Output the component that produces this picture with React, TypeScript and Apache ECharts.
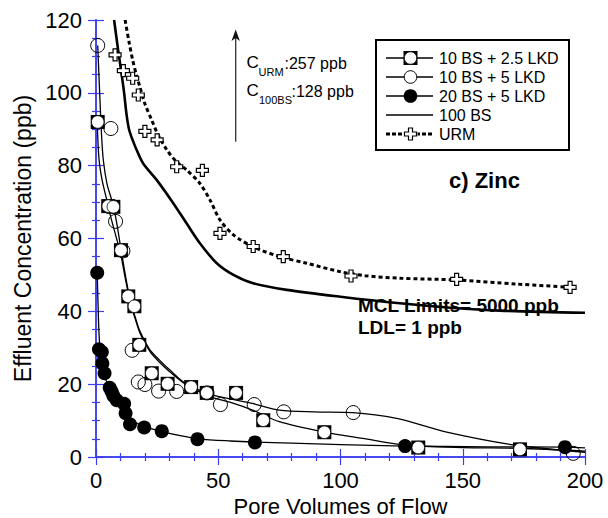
import React, { useEffect, useRef } from "react";
import * as echarts from "echarts";

// ---- data ----
const sqX = [0.7, 5.0, 7.1, 10.2, 13.2, 15.7, 17.7, 22.8, 29.3, 38.9, 45.3, 57.3, 68.4, 93.4, 131.8, 173.4];
const sqY = [92.0, 68.9, 68.7, 56.8, 44.1, 41.4, 30.8, 23.0, 20.1, 19.2, 17.6, 17.6, 10.1, 6.8, 2.6, 2.1];

const ocX = [0.7, 6.1, 8.0, 11.0, 14.8, 17.3, 20.0, 25.6, 33.0, 45.4, 50.9, 64.7, 76.8, 105.2, 195.2];
const ocY = [113.0, 90.2, 64.7, 56.6, 29.3, 20.6, 19.9, 18.1, 18.0, 17.6, 14.4, 14.4, 12.4, 12.2, 1.0];

const fcX = [0.5, 1.2, 2.4, 2.6, 3.5, 5.6, 6.4, 7.1, 8.5, 11.5, 12.1, 13.9, 19.7, 26.9, 41.5, 65.0, 126.4, 191.8];
const fcY = [50.6, 29.6, 28.8, 25.7, 23.0, 19.0, 18.0, 16.8, 15.6, 14.6, 12.0, 9.0, 8.1, 7.1, 4.9, 4.0, 3.0, 2.7];

const urmX = [7.8, 11.2, 15.0, 17.3, 20.0, 25.0, 33.0, 43.5, 50.7, 64.3, 76.6, 104.3, 147.5, 193.9];
const urmY = [110.4, 106.1, 104.0, 99.4, 89.4, 87.1, 79.7, 78.7, 61.4, 57.8, 55.0, 49.7, 48.8, 46.6];

// fitted curves
const sqFitX = [0.5, 1.2, 2.5, 4.4, 6, 8, 10, 12, 14, 16, 18, 22, 26, 30, 37, 48, 56, 64, 75, 93, 109, 126, 150, 173, 200];
const sqFitY = [92, 82, 76, 70.6, 66, 61, 56, 49, 42.5, 38, 34, 29, 26, 23.5, 19.8, 16.3, 14.8, 12.9, 9.7, 6.9, 5.1, 3.3, 2.6, 2.4, 1.6];

const ocFitX = [0.7, 1.5, 2.3, 3, 4.5, 6.4, 8, 10, 12, 14, 16, 18, 22, 26, 30, 37, 48, 56, 64, 75, 89, 105, 123, 143, 171, 200];
const ocFitY = [113, 100, 88, 81.5, 75, 70.6, 66, 58, 50, 43, 38.5, 34.5, 29.5, 26.6, 24, 20, 17, 15.8, 14.7, 12.9, 12.4, 12.2, 10.6, 6.9, 3.3, 1.3];

const fcFitX = [0.5, 1, 1.6, 3, 5, 7, 10, 13, 16, 20, 27, 35, 42, 55, 65, 80, 100, 126, 160, 192, 200];
const fcFitY = [50.6, 38, 30, 23.5, 19.5, 16.8, 13.8, 11, 9.5, 8.3, 7, 5.8, 5, 4.4, 4.1, 3.8, 3.4, 3.0, 2.8, 2.7, 2.5];

const bsX = [7.4, 9, 10.5, 11.5, 12.5, 13.5, 15, 16.5, 19.3, 24.8, 31.6, 37.1, 42.5, 49.4, 56.2, 64.3, 78, 100, 124.3, 145, 165.2, 200];
const bsY = [120, 112, 105, 100, 94, 90, 87, 84.5, 80.6, 76.1, 69.7, 64.1, 58.7, 53.2, 50, 47.7, 45.9, 44, 42.2, 41, 40.2, 39.6];

const urmFitX = [11.9, 13.5, 15, 16.5, 18, 20, 22.8, 25, 29, 33, 37.1, 42.5, 46.6, 50.7, 56.2, 64.3, 75.3, 86.2, 99.8, 110, 124, 147.5, 172, 194];
const urmFitY = [120, 114, 109, 105, 101.5, 97, 92.5, 89, 84.3, 81, 78.8, 75.1, 70.6, 65.1, 61, 57.7, 55, 53.2, 50.9, 49.8, 49.1, 48.6, 47.5, 46.6];

const xTicks = { min: 0, max: 200, interval: 50 };
const yTicks = { min: 0, max: 120, interval: 20 };

const legendNames = ["10 BS + 2.5 LKD", "10 BS + 5 LKD", "20 BS + 5 LKD", "100 BS", "URM"];

const FONT = "'Liberation Sans', Arial, sans-serif";
const AXIS_COLOR = "#3c3cf0";
const CROSS = "path://M4,0L8,0L8,4L12,4L12,8L8,8L8,12L4,12L4,8L0,8L0,4L4,4Z";

const zip = (xs: number[], ys: number[]) => xs.map((x, i) => [x, ys[i]]);

export default function App() {
  const ref = useRef<HTMLDivElement>(null);
  useEffect(() => {
    document.body.style.margin = "0";
    if (!ref.current) return;
    const chart = echarts.init(ref.current, undefined, { renderer: "svg" });

    const baseAxis = {
      axisLine: { show: true, lineStyle: { color: AXIS_COLOR, width: 1.5 } },
      axisTick: { show: true, inside: true, length: 8, lineStyle: { color: AXIS_COLOR, width: 1.2 } },
      minorTick: { show: true, length: 4, lineStyle: { color: AXIS_COLOR, width: 1.2 } },
      splitLine: { show: false },
    };

    const lx1 = 386, lx2 = 433, lmx = 410.5;
    const rowY = [58, 77, 96, 115, 134];
    const legendGraphics: any[] = [
      { type: "rect", shape: { x: 376, y: 40, width: 193, height: 110 }, style: { fill: "#fff", stroke: "#000", lineWidth: 2 }, z: 10 },
    ];
    rowY.forEach((y, i) => {
      legendGraphics.push({
        type: "line",
        shape: { x1: lx1, y1: y, x2: lx2, y2: y },
        style: i === 4
          ? { stroke: "#000", lineWidth: 3, lineDash: [4, 2] }
          : { stroke: "#000", lineWidth: 1.5 },
        z: 11,
      });
      legendGraphics.push({
        type: "text", x: 439, y: y,
        style: { text: legendNames[i], fontSize: 16, fontFamily: FONT, fill: "#000", verticalAlign: "middle", align: "left" },
        z: 11,
      });
    });
    legendGraphics.push(
      { type: "rect", shape: { x: lmx - 7, y: rowY[0] - 7, width: 14, height: 14 }, style: { fill: "#000" }, z: 12 },
      { type: "circle", shape: { cx: lmx, cy: rowY[0], r: 6.3 }, style: { fill: "#fff", stroke: "#000", lineWidth: 1 }, z: 13 },
      { type: "circle", shape: { cx: lmx, cy: rowY[1], r: 6.3 }, style: { fill: "#fff", stroke: "#000", lineWidth: 1 }, z: 12 },
      { type: "circle", shape: { cx: lmx, cy: rowY[2], r: 6.8 }, style: { fill: "#000" }, z: 12 },
      { type: "rect", shape: { x: lmx - 7, y: rowY[4] - 7, width: 14, height: 14 }, style: { fill: "#fff" }, z: 12 },
      {
        type: "polygon",
        shape: { points: [[-2, -6], [2, -6], [2, -2], [6, -2], [6, 2], [2, 2], [2, 6], [-2, 6], [-2, 2], [-6, 2], [-6, -2], [-2, -2]].map(([a, b]) => [lmx + a, rowY[4] + b]) },
        style: { fill: "#fff", stroke: "#000", lineWidth: 1.2 },
        z: 13,
      }
    );

    const txt = (text: string, x: number, y: number, size: number, bold = false) => ({
      type: "text", x, y,
      style: { text, fontSize: size, fontFamily: FONT, fontWeight: bold ? "bold" : "normal", fill: "#000", verticalAlign: "middle", align: "left" },
      z: 9,
    });

    const scatterBase = { emphasis: { disabled: true } };

    const option: any = {
      animation: false,
      grid: { left: 96, right: 23, top: 20, bottom: 61, containLabel: false, outerBoundsMode: "none" },
      xAxis: [
        {
          type: "value", ...xTicks, ...baseAxis,
          minorTick: { ...baseAxis.minorTick, splitNumber: 5 },
          axisLabel: { color: "#000", fontSize: 22, fontFamily: FONT, margin: 12 },
          name: "Pore Volumes of Flow", nameLocation: "middle", nameGap: 35,
          nameTextStyle: { color: "#000", fontSize: 22, lineHeight: 22, fontFamily: FONT },
        },
        {
          type: "value", position: "top", ...xTicks, ...baseAxis,
          minorTick: { ...baseAxis.minorTick, splitNumber: 5 },
          axisLabel: { show: false },
        },
      ],
      yAxis: [
        {
          type: "value", ...yTicks, ...baseAxis,
          minorTick: { ...baseAxis.minorTick, splitNumber: 4 },
          axisLabel: { color: "#000", fontSize: 22, fontFamily: FONT, margin: 14 },
          name: "Effluent Concentration (ppb)", nameLocation: "middle", nameGap: 59,
          nameTextStyle: { color: "#000", fontSize: 23, fontFamily: FONT },
        },
        {
          type: "value", position: "right", ...yTicks, ...baseAxis,
          minorTick: { ...baseAxis.minorTick, splitNumber: 4 },
          axisLabel: { show: false },
        },
      ],
      series: [
        { name: "10 BS + 2.5 LKD fit", type: "line", data: zip(sqFitX, sqFitY), smooth: 0.3, showSymbol: false, lineStyle: { color: "#000", width: 1.3 }, z: 2 },
        { name: "10 BS + 5 LKD fit", type: "line", data: zip(ocFitX, ocFitY), smooth: 0.3, showSymbol: false, lineStyle: { color: "#000", width: 1.3 }, z: 2 },
        { name: "20 BS + 5 LKD fit", type: "line", data: zip(fcFitX, fcFitY), smooth: 0.3, showSymbol: false, lineStyle: { color: "#000", width: 1.3 }, z: 2 },
        { name: "100 BS", type: "line", data: zip(bsX, bsY), smooth: 0.3, showSymbol: false, lineStyle: { color: "#000", width: 2.6 }, z: 2 },
        { name: "URM fit", type: "line", data: zip(urmFitX, urmFitY), smooth: 0.3, showSymbol: false, lineStyle: { color: "#000", width: 3, type: [4, 3] }, z: 2 },
        { ...scatterBase, name: "URM", type: "scatter", data: zip(urmX, urmY), symbol: CROSS, symbolSize: 12, itemStyle: { color: "#fff", borderColor: "#000", borderWidth: 1.2, opacity: 1 }, z: 3 },
        { ...scatterBase, name: "10 BS + 5 LKD", type: "scatter", data: zip(ocX, ocY), symbol: "circle", symbolSize: 14, itemStyle: { color: "rgba(255,255,255,0)", borderColor: "#000", borderWidth: 1, opacity: 1 }, z: 4 },
        { ...scatterBase, name: "10 BS + 2.5 LKD", type: "scatter", data: zip(sqX, sqY), symbol: "rect", symbolSize: 14, itemStyle: { color: "#000", opacity: 1 }, z: 5 },
        { ...scatterBase, name: "10 BS + 2.5 LKD inner", type: "scatter", data: zip(sqX, sqY), symbol: "circle", symbolSize: 12.6, itemStyle: { color: "#fff", borderColor: "#000", borderWidth: 0.8, opacity: 1 }, z: 6 },
        { ...scatterBase, name: "20 BS + 5 LKD", type: "scatter", data: zip(fcX, fcY), symbol: "circle", symbolSize: 14, itemStyle: { color: "#000", opacity: 1 }, z: 7 },
      ],
      graphic: [
        { type: "line", shape: { x1: 235.7, y1: 141.7, x2: 235.7, y2: 38 }, style: { stroke: "#333", lineWidth: 1.3 }, z: 9 },
        { type: "polygon", shape: { points: [[235.7, 29.5], [231.5, 41], [235.7, 38], [239.9, 41]] }, style: { fill: "#111" }, z: 9 },
        txt("C", 246.5, 62.5, 17),
        txt("URM", 258.5, 72, 11),
        txt(":257 ppb", 284.5, 63, 16),
        txt("C", 246.5, 90.5, 17),
        txt("100BS", 259, 99.5, 11),
        txt(":128 ppb", 291.5, 91, 16),
        txt("c) Zinc", 449, 180, 22, true),
        txt("MCL Limits= 5000 ppb", 358, 305, 19, true),
        txt("LDL= 1 ppb", 358, 327, 19, true),
        ...legendGraphics,
      ],
    };
    chart.setOption(option);
    return () => chart.dispose();
  }, []);
  return <div ref={ref} style={{ width: 608, height: 518 }} />;
}
